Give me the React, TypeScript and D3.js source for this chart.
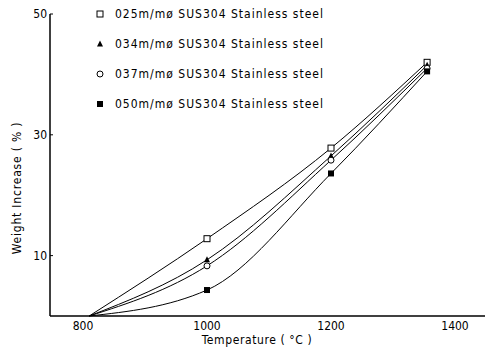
import * as d3 from "d3";

// temperatures (°C) where each sample was weighed
const temps = [810, 1000, 1200, 1355];

// weight increase (%) per wire
const wire025 = [0, 12.8, 27.8, 42];
const wire034 = [0, 9.3, 26.5, 41.5];
const wire037 = [0, 8.3, 25.8, 41];
const wire050 = [0, 4.3, 23.6, 40.5];

const legendLabels = [
  "025m/mø SUS304 Stainless steel",
  "034m/mø SUS304 Stainless steel",
  "037m/mø SUS304 Stainless steel",
  "050m/mø SUS304 Stainless steel",
];
const markerKinds = ["openSquare", "triangle", "openCircle", "filledSquare"];

const xTicks = [800, 1000, 1200, 1400];
const yTicks = [10, 30, 50];

const font = "'DejaVu Sans Condensed', 'Liberation Sans Narrow', 'DejaVu Sans', sans-serif";

function Marker({ kind, cx, cy }: { kind: string; cx: number; cy: number }) {
  const s = 3;
  if (kind === "openSquare")
    return <rect x={cx - s} y={cy - s} width={2 * s} height={2 * s} fill="white" stroke="black" strokeWidth={1} />;
  if (kind === "filledSquare")
    return <rect x={cx - s} y={cy - s} width={2 * s} height={2 * s} fill="black" />;
  if (kind === "triangle")
    return <path d={`M${cx},${cy - s - 0.5}L${cx + s},${cy + s - 0.5}L${cx - s},${cy + s - 0.5}Z`} fill="black" />;
  return <circle cx={cx} cy={cy} r={s} fill="white" stroke="black" strokeWidth={1} />;
}

export default function App() {
  const width = 488;
  const height = 352;

  const x = d3.scaleLinear().domain([800, 1400]).range([83, 455]);
  const y = d3.scaleLinear().domain([0, 50]).range([316, 14]);
  const axisX0 = 50;
  const axisX1 = 485;

  const series = [wire025, wire034, wire037, wire050];

  const line = d3
    .line<number>()
    .x((_, i) => x(temps[i]))
    .y((d) => y(d))
    .curve(d3.curveMonotoneX);

  const legendY = [14, 44, 74, 104];

  return (
    <svg
      width={width}
      height={height}
      style={{ position: "absolute", left: 0, top: 0, background: "white" }}
      fontFamily={font}
    >
      {/* axes */}
      <line x1={axisX0} x2={axisX0} y1={y(50)} y2={y(0)} stroke="black" strokeWidth={1.5} />
      <line x1={axisX0} x2={axisX1} y1={y(0)} y2={y(0)} stroke="black" strokeWidth={1.3} />

      {yTicks.map((t) => (
        <g key={t}>
          <line x1={axisX0} x2={axisX0 + 3} y1={y(t)} y2={y(t)} stroke="black" />
          <text x={axisX0 - 3} y={y(t)} dy="0.35em" textAnchor="end" fontSize={12}>
            {t}
          </text>
        </g>
      ))}

      {xTicks.map((t) => (
        <text key={t} x={x(t)} y={y(0) + 14} textAnchor="middle" fontSize={12}>
          {t}
        </text>
      ))}

      <text x={257} y={344} textAnchor="middle" fontSize={12} letterSpacing={0.6}>
        Temperature ( °C )
      </text>
      <text
        transform={`translate(21,${188}) rotate(-90)`}
        textAnchor="middle"
        fontSize={12}
        letterSpacing={0.8}
      >
        Weight Increase ( % )
      </text>

      {/* curves */}
      {series.map((s, i) => (
        <path key={i} d={line(s) || ""} fill="none" stroke="black" strokeWidth={1} />
      ))}
      {series.map((s, i) =>
        s.slice(1).map((v, j) => (
          <Marker key={`${i}-${j}`} kind={markerKinds[i]} cx={x(temps[j + 1])} cy={y(v)} />
        ))
      )}

      {/* legend */}
      {legendLabels.map((label, i) => (
        <g key={label}>
          <Marker kind={markerKinds[i]} cx={100} cy={legendY[i]} />
          <text x={115} y={legendY[i]} dy="0.35em" fontSize={12} letterSpacing={1}>
            {label}
          </text>
        </g>
      ))}
    </svg>
  );
}
